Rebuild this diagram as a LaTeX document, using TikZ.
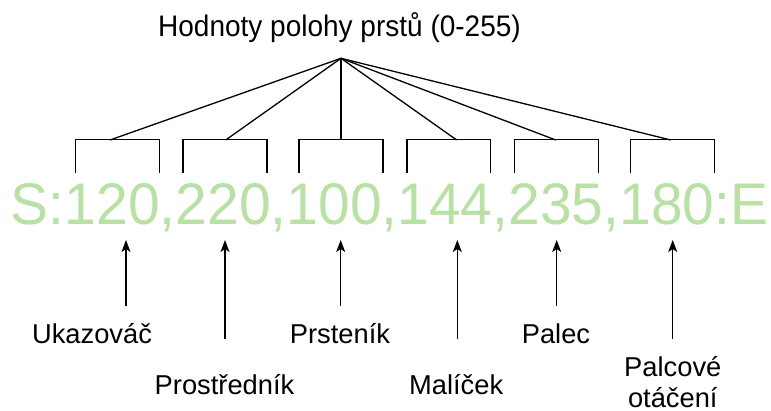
\documentclass[tikz,border=0pt]{standalone}
\usepackage{fontspec}
\setmainfont{Liberation Sans}
\usetikzlibrary{arrows.meta}
\definecolor{datagreen}{HTML}{B9E0A5}
\tikzset{
  conn/.style={line width=1.3pt, black},
  arr/.style={line width=1.3pt, black, -{Stealth[length=12pt,width=9pt,inset=3pt]}},
  bracketbox/.style={draw=none, inner sep=0pt, minimum height=32.7pt},
  lbl/.style={inner sep=0pt, anchor=base, font=\fontsize{27.3}{31}\selectfont},
}
\begin{document}
\begin{tikzpicture}[x=1pt,y=-1pt]
\useasboundingbox (0,0) rectangle (771,410);

% title
\node[inner sep=0pt, anchor=base, font=\fontsize{28}{32}\selectfont] (title) at (339.5,36.7) {\scalebox{1}[1.06]{Hodnoty polohy prstů (0-255)}};
\coordinate (apex) at (341,58.3);

% data string
\node[inner sep=0pt, anchor=base, text=datagreen, font=\fontsize{57}{60}\selectfont] (data) at (389.7,224.5) {\scalebox{1}[1.03]{S:120,220,100,144,235,180:E}};

% brackets
\node[bracketbox, minimum width=83.3pt] (b1) at (117.35,156.35) {};
\node[bracketbox, minimum width=83.4pt] (b2) at (225.0,156.35) {};
\node[bracketbox, minimum width=83.4pt] (b3) at (341.0,156.35) {};
\node[bracketbox, minimum width=82.7pt] (b4) at (448.65,156.35) {};
\node[bracketbox, minimum width=83.3pt] (b5) at (556.65,156.35) {};
\node[bracketbox, minimum width=83.3pt] (b6) at (672.35,156.35) {};
\foreach \b in {b1,b2,b3,b4,b5,b6}{
  \draw[conn] (\b.south west) |- (\b.north east) -- (\b.south east);
}
\coordinate (c1) at (110,140);
\coordinate (c2) at (225.7,140);
\coordinate (c3) at (341,140);
\coordinate (c4) at (456.7,140);
\coordinate (c5) at (555.7,140);
\coordinate (c6) at (670.7,140);
\foreach \c in {c1,c2,c3,c4,c5,c6}{
  \draw[conn] (apex) -- (\c);
}

% arrow tips and tails
\coordinate (t1) at (126,240);   \coordinate (s1) at (126,306);
\coordinate (t2) at (225,240);   \coordinate (s2) at (225,339.3);
\coordinate (t3) at (340.7,240); \coordinate (s3) at (340.7,306);
\coordinate (t4) at (457.3,240); \coordinate (s4) at (457.3,339.3);
\coordinate (t5) at (556.7,240); \coordinate (s5) at (556.7,306);
\coordinate (t6) at (672.7,240); \coordinate (s6) at (672.7,339.3);
\foreach \i in {1,...,6}{
  \draw[arr] (s\i) -- (t\i);
}

% labels
\node[lbl] (l1) at (92,343.3) {Ukazováč};
\node[lbl] (l2) at (224.5,394) {Prostředník};
\node[lbl] (l3) at (340,343.3) {Prsteník};
\node[lbl] (l4) at (456.2,394) {Malíček};
\node[lbl] (l5) at (556,343.3) {Palec};
\node[lbl] (l6) at (672.8,376.7) {\begin{tabular}[t]{@{}c@{}}Palcové\\otáčení\end{tabular}};
\end{tikzpicture}
\end{document}
